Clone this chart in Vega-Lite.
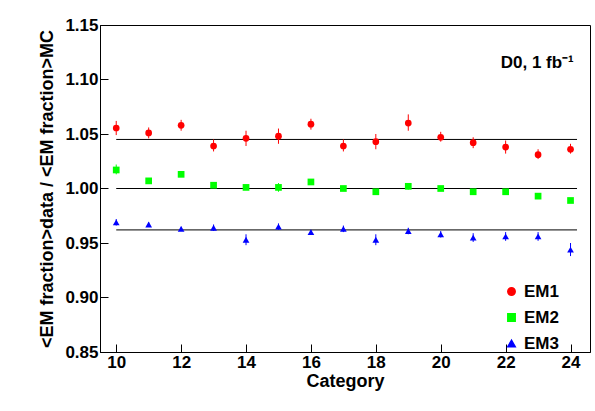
{
"$schema":"https://vega.github.io/schema/vega-lite/v6.json",
"width":490,"height":327,"autosize":"none",
"padding":{"left":100,"top":25,"right":5,"bottom":59},
"config":{"font":"Liberation Sans","view":{"stroke":"black","strokeWidth":1},
"legend":{"orient":"none","legendX":403,"legendY":258,"labelFontSize":17,"labelFontWeight":"bold","labelColor":"black","rowPadding":8,"symbolSize":55,"symbolOpacity":1},
"axis":{"labelFontSize":17,"labelFontWeight":"bold","titleFontSize":18,"titleFontWeight":"bold","labelColor":"black","titleColor":"black","domainColor":"black","tickColor":"black","grid":false,"tickSize":-8}},
"layer":[
{"data":{"values":[
{"s":"EM1","y":1.045},{"s":"EM2","y":1.0},{"s":"EM3","y":0.962}]},
"mark":{"type":"rule","color":"black","strokeWidth":1},
"encoding":{"x":{"datum":10},"x2":{"datum":24.2},"y":{"field":"y","type":"quantitative"}}},
{"data":{"name":"pts"},
"mark":{"type":"rule","strokeWidth":1},
"encoding":{"x":{"field":"c","type":"quantitative"},"y":{"field":"lo","type":"quantitative"},"y2":{"field":"hi"},
"color":{"field":"s","type":"nominal","title":null,"scale":{"domain":["EM1","EM2","EM3"],"range":["#ff0000","#00ff00","#0000ff"]}}}},
{"data":{"name":"pts"},
"mark":{"type":"point","filled":true,"size":45,"opacity":1},
"encoding":{
"x":{"field":"c","type":"quantitative","title":"Category","scale":{"domain":[9.5,24.6],"nice":false,"zero":false},"axis":{"values":[10,12,14,16,18,20,22,24],"labelPadding":10,"titlePadding":2}},
"y":{"field":"v","type":"quantitative","title":"<EM fraction>data / <EM fraction>MC","scale":{"domain":[0.85,1.15],"nice":false,"zero":false},"axis":{"values":[0.85,0.9,0.95,1.0,1.05,1.1,1.15],"format":".2f","labelPadding":10,"titlePadding":8}},
"color":{"field":"s","type":"nominal","title":null,"scale":{"domain":["EM1","EM2","EM3"],"range":["#ff0000","#00ff00","#0000ff"]}},
"shape":{"field":"s","type":"nominal","title":null,"scale":{"domain":["EM1","EM2","EM3"],"range":["circle","square","triangle-up"]}}}},
{"data":{"values":[{"t":"D0, 1 fb⁻¹"}]},
"mark":{"type":"text","fontSize":17,"fontWeight":"bold","align":"right"},
"encoding":{"x":{"datum":24.1},"y":{"datum":1.115},"text":{"field":"t"}}}
],
"datasets":{"pts":[
{"s":"EM1","c":10,"v":1.0555,"lo":1.049,"hi":1.062},
{"s":"EM1","c":11,"v":1.051,"lo":1.046,"hi":1.056},
{"s":"EM1","c":12,"v":1.058,"lo":1.053,"hi":1.063},
{"s":"EM1","c":13,"v":1.039,"lo":1.034,"hi":1.045},
{"s":"EM1","c":14,"v":1.046,"lo":1.039,"hi":1.053},
{"s":"EM1","c":15,"v":1.048,"lo":1.041,"hi":1.055},
{"s":"EM1","c":16,"v":1.059,"lo":1.054,"hi":1.064},
{"s":"EM1","c":17,"v":1.039,"lo":1.034,"hi":1.045},
{"s":"EM1","c":18,"v":1.043,"lo":1.036,"hi":1.050},
{"s":"EM1","c":19,"v":1.060,"lo":1.053,"hi":1.068},
{"s":"EM1","c":20,"v":1.047,"lo":1.043,"hi":1.052},
{"s":"EM1","c":21,"v":1.042,"lo":1.037,"hi":1.047},
{"s":"EM1","c":22,"v":1.038,"lo":1.032,"hi":1.044},
{"s":"EM1","c":23,"v":1.031,"lo":1.027,"hi":1.036},
{"s":"EM1","c":24,"v":1.036,"lo":1.032,"hi":1.041},
{"s":"EM2","c":10,"v":1.017,"lo":1.013,"hi":1.022},
{"s":"EM2","c":11,"v":1.007,"lo":1.005,"hi":1.009},
{"s":"EM2","c":12,"v":1.013,"lo":1.011,"hi":1.015},
{"s":"EM2","c":13,"v":1.003,"lo":1.001,"hi":1.005},
{"s":"EM2","c":14,"v":1.001,"lo":0.999,"hi":1.003},
{"s":"EM2","c":15,"v":1.001,"lo":0.997,"hi":1.005},
{"s":"EM2","c":16,"v":1.006,"lo":1.004,"hi":1.008},
{"s":"EM2","c":17,"v":1.0,"lo":0.998,"hi":1.002},
{"s":"EM2","c":18,"v":0.997,"lo":0.995,"hi":0.999},
{"s":"EM2","c":19,"v":1.002,"lo":0.999,"hi":1.005},
{"s":"EM2","c":20,"v":1.0,"lo":0.998,"hi":1.002},
{"s":"EM2","c":21,"v":0.997,"lo":0.995,"hi":0.999},
{"s":"EM2","c":22,"v":0.997,"lo":0.995,"hi":0.999},
{"s":"EM2","c":23,"v":0.993,"lo":0.991,"hi":0.995},
{"s":"EM2","c":24,"v":0.989,"lo":0.987,"hi":0.991},
{"s":"EM3","c":10,"v":0.969,"lo":0.966,"hi":0.972},
{"s":"EM3","c":11,"v":0.967,"lo":0.965,"hi":0.969},
{"s":"EM3","c":12,"v":0.963,"lo":0.961,"hi":0.965},
{"s":"EM3","c":13,"v":0.964,"lo":0.961,"hi":0.967},
{"s":"EM3","c":14,"v":0.953,"lo":0.948,"hi":0.958},
{"s":"EM3","c":15,"v":0.965,"lo":0.962,"hi":0.968},
{"s":"EM3","c":16,"v":0.96,"lo":0.958,"hi":0.962},
{"s":"EM3","c":17,"v":0.963,"lo":0.96,"hi":0.966},
{"s":"EM3","c":18,"v":0.953,"lo":0.948,"hi":0.958},
{"s":"EM3","c":19,"v":0.961,"lo":0.958,"hi":0.964},
{"s":"EM3","c":20,"v":0.958,"lo":0.955,"hi":0.961},
{"s":"EM3","c":21,"v":0.955,"lo":0.951,"hi":0.959},
{"s":"EM3","c":22,"v":0.956,"lo":0.952,"hi":0.96},
{"s":"EM3","c":23,"v":0.956,"lo":0.952,"hi":0.96},
{"s":"EM3","c":24,"v":0.944,"lo":0.938,"hi":0.95}
]}
}
